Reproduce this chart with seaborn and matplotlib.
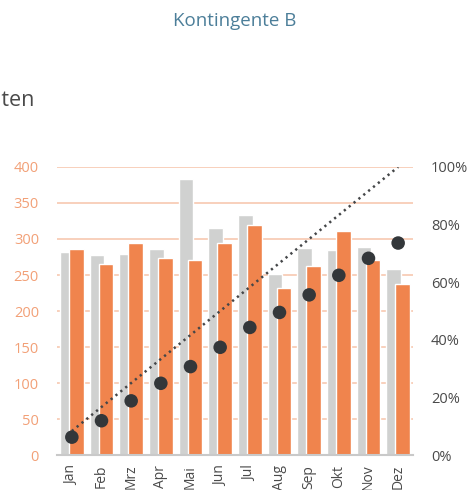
import numpy as np
import pandas as pd
import matplotlib
matplotlib.use("Agg")
import matplotlib.pyplot as plt
import seaborn as sns
from matplotlib.ticker import FuncFormatter

months = ["Jan", "Feb", "Mrz", "Apr", "Mai", "Jun", "Jul", "Aug", "Sep", "Okt", "Nov", "Dez"]
vorjahr = [282, 278, 279, 286, 383, 315, 334, 251, 288, 285, 289, 259]
ist = [286, 265, 295, 274, 271, 295, 319, 232, 263, 311, 271, 238]
kumuliert = [0.062, 0.119, 0.188, 0.249, 0.307, 0.374, 0.443, 0.495, 0.556, 0.624, 0.683, 0.736]
plan = [0.0833, 0.1667, 0.25, 0.3333, 0.4167, 0.5, 0.5833, 0.6667, 0.75, 0.8333, 0.9167, 1.0]
left_ticks = [0, 50, 100, 150, 200, 250, 300, 350, 400]
right_ticks = [0, 0.2, 0.4, 0.6, 0.8, 1.0]

sns.set_theme(style="white")
plt.rcParams["font.family"] = ["Open Sans", "DejaVu Sans"]

ORANGE = "#F0844D"
GRAY = "#D0D1D0"
GRID = "#F8CDB6"
TICK_OR = "#F2A077"
DARK = "#33373A"
TXT = "#4A4A4A"

idx = np.arange(len(months))
df = pd.DataFrame({"m": months, "i": idx, "vj": vorjahr, "ist": ist,
                   "kum": kumuliert, "plan": plan})
df["x_vj"] = df["i"] - 0.15
df["x_ist"] = df["i"] + 0.15

fig = plt.figure(figsize=(4.7, 4.9), dpi=100)
ax = fig.add_axes([0.1213, 0.0714, 0.7574, 0.5878])

sns.barplot(data=df, x="x_vj", y="vj", native_scale=True, width=0.5,
            color=GRAY, saturation=1, ax=ax, zorder=2, errorbar=None)
sns.barplot(data=df, x="x_ist", y="ist", native_scale=True, width=0.5,
            color=ORANGE, saturation=1, ax=ax, zorder=3, errorbar=None)

ax.set_xlim(-0.5, len(months) - 0.5)
ax.set_ylim(0, 400)
ax.set_yticks(left_ticks)
ax.set_xticks(idx)
ax.set_xticklabels(months, rotation=90, fontsize=10, color=TXT)
ax.tick_params(axis="y", length=0, pad=13, labelsize=10.5, labelcolor=TICK_OR)
ax.tick_params(axis="x", length=0, pad=7)
ax.yaxis.grid(True, color=GRID, linewidth=1.3, zorder=0)
ax.set_axisbelow(True)
for s in ["top", "right", "left"]:
    ax.spines[s].set_visible(False)
ax.spines["bottom"].set_color("#C9C9C9")
ax.spines["bottom"].set_linewidth(1.5)
ax.spines["bottom"].set_zorder(4)
ax.set_xlabel("")
ax.set_ylabel("")

ax2 = ax.twinx()
sns.lineplot(data=df, x="i", y="plan", ax=ax2, color="#444648", linewidth=1.8,
             dashes=False, zorder=5)
ax2.lines[0].set_linestyle((0, (0.9, 1.6)))
sns.scatterplot(data=df, x="i", y="kum", ax=ax2, color=DARK, s=95,
                edgecolor="none", zorder=6)
ax2.set_ylim(0, 1)
ax2.set_yticks(right_ticks)
ax2.yaxis.set_major_formatter(FuncFormatter(lambda v, p: f"{v*100:.0f}%"))
ax2.tick_params(axis="y", length=0, pad=13, labelsize=10.5, labelcolor=TXT)
ax2.grid(False)
for s in ["top", "right", "left", "bottom"]:
    ax2.spines[s].set_visible(False)
ax2.set_xlabel("")
ax2.set_ylabel("")
ax2.set_xlim(-0.5, len(months) - 0.5)

fig.text(0.5, 0.958, "Kontingente B", ha="center", va="center",
         fontsize=13.5, color="#4C7E99")
fig.text(0.074, 0.795, "Einheiten", ha="right", va="center",
         fontsize=15.5, color=TXT)

fig.savefig("out.png", dpi=100)
